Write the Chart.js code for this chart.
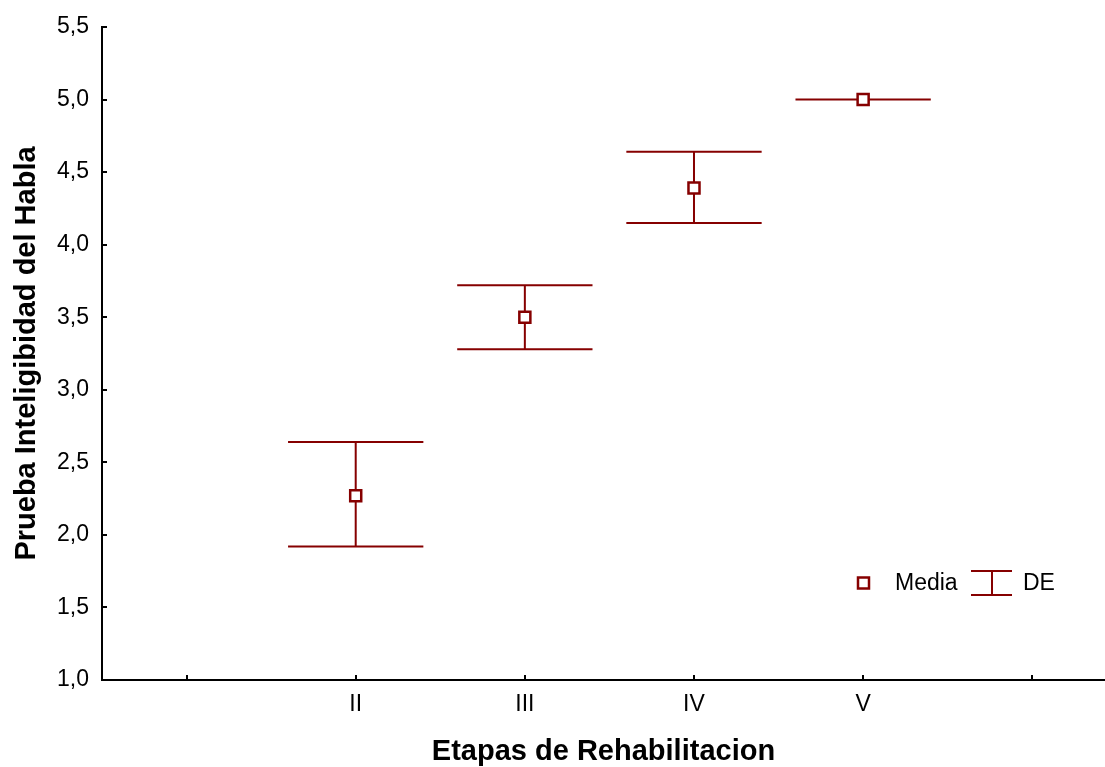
<!DOCTYPE html>
<html>
<head>
<meta charset="utf-8">
<script src="https://cdn.jsdelivr.net/npm/chart.js@4/dist/chart.umd.min.js"></script>
<style>
  html, body { margin: 0; padding: 0; background: #fff; }
  #wrap { width: 1105px; height: 767px; position: relative; }
</style>
</head>
<body>
<div id="wrap"><canvas id="chart"></canvas></div>
<script>
// categories on the x axis (first and last slots are empty)
const categories = ["", "II", "III", "IV", "V", ""];
const stagePos = [1, 2, 3, 4];
// mean and +/- SD limits per stage
const means = [2.27, 3.50, 4.39, 5.00];
const sdUpper = [2.64, 3.72, 4.64, 5.00];
const sdLower = [1.92, 3.28, 4.15, 5.00];
const yTicks = [1.0, 1.5, 2.0, 2.5, 3.0, 3.5, 4.0, 4.5, 5.0, 5.5];

const RED = "#860000";
const FONT = "'Liberation Sans', Arial, sans-serif";

// error bars + inward ticks + legend
const extrasPlugin = {
  id: "extras",
  beforeDatasetsDraw(chart) {
    const ctx = chart.ctx;
    const xs = chart.scales.x, ys = chart.scales.y;
    ctx.save();
    ctx.strokeStyle = RED;
    ctx.lineWidth = 2;
    stagePos.forEach((p, i) => {
      const x = xs.getPixelForValue(p);
      const xl = xs.getPixelForValue(p - 0.4);
      const xr = xs.getPixelForValue(p + 0.4);
      const yt = ys.getPixelForValue(sdUpper[i]);
      const yb = ys.getPixelForValue(sdLower[i]);
      ctx.beginPath();
      ctx.moveTo(x, yt); ctx.lineTo(x, yb);
      ctx.moveTo(xl, yt); ctx.lineTo(xr, yt);
      ctx.moveTo(xl, yb); ctx.lineTo(xr, yb);
      ctx.stroke();
    });
    ctx.restore();
  },
  afterDraw(chart) {
    const ctx = chart.ctx;
    const xs = chart.scales.x, ys = chart.scales.y;
    const area = chart.chartArea;
    ctx.save();
    // inward tick marks
    ctx.strokeStyle = "#000";
    ctx.lineWidth = 2;
    ctx.beginPath();
    yTicks.forEach(v => {
      const y = Math.round(ys.getPixelForValue(v));
      ctx.moveTo(area.left, y); ctx.lineTo(area.left + 5, y);
    });
    categories.forEach((c, i) => {
      const x = Math.round(xs.getPixelForValue(i));
      ctx.moveTo(x, area.bottom); ctx.lineTo(x, area.bottom - 5);
    });
    ctx.stroke();

    // legend
    const ly = 583;
    ctx.strokeStyle = RED;
    ctx.fillStyle = "#fff";
    ctx.lineWidth = 2.5;
    ctx.fillRect(858, ly - 5.5, 11, 11);
    ctx.strokeRect(858, ly - 5.5, 11, 11);
    ctx.lineWidth = 2;
    ctx.beginPath();
    ctx.moveTo(971, ly - 12); ctx.lineTo(1012, ly - 12);
    ctx.moveTo(971, ly + 12); ctx.lineTo(1012, ly + 12);
    ctx.moveTo(992, ly - 12); ctx.lineTo(992, ly + 12);
    ctx.stroke();
    ctx.fillStyle = "#000";
    ctx.font = "23px " + FONT;
    ctx.textBaseline = "middle";
    ctx.textAlign = "left";
    ctx.fillText("Media", 895, ly + 1);
    ctx.fillText("DE", 1023, ly + 1);
    ctx.restore();
  }
};

new Chart(document.getElementById("chart"), {
  type: "scatter",
  data: {
    datasets: [{
      label: "Media",
      data: stagePos.map((p, i) => ({ x: p, y: means[i] })),
      pointStyle: "rect",
      pointRadius: 7.8,
      pointHoverRadius: 7.8,
      borderWidth: 2.5,
      borderColor: RED,
      backgroundColor: "#fff"
    }]
  },
  options: {
    responsive: true,
    maintainAspectRatio: false,
    animation: false,
    layout: { autoPadding: false, padding: { top: 27, right: 0, left: 0, bottom: 0 } },
    plugins: {
      legend: { display: false },
      tooltip: { enabled: false }
    },
    scales: {
      x: {
        type: "linear",
        min: -0.5,
        max: 5.43,
        afterBuildTicks(scale) {
          scale.ticks = categories.map((c, i) => ({ value: i }));
        },
        afterFit(scale) {
          scale.height = 87;
          scale.paddingLeft = 0;
          scale.paddingRight = 0;
        },
        grid: { display: false, drawTicks: false },
        border: { display: true, color: "#000", width: 2 },
        ticks: {
          autoSkip: false,
          maxRotation: 0,
          padding: 11,
          color: "#000",
          font: { family: FONT, size: 23 },
          callback: (v) => categories[v] ?? ""
        },
        title: {
          display: true,
          text: "Etapas de Rehabilitacion",
          color: "#000",
          font: { family: FONT, size: 29, weight: "bold", lineHeight: 1 },
          padding: { top: 0, bottom: 1 }
        }
      },
      y: {
        min: 1.0,
        max: 5.5,
        afterBuildTicks(scale) {
          scale.ticks = yTicks.map(v => ({ value: v }));
        },
        afterFit(scale) {
          scale.width = 102;
          scale.paddingTop = 0;
          scale.paddingBottom = 0;
        },
        grid: { display: false, drawTicks: false },
        border: { display: true, color: "#000", width: 2 },
        ticks: {
          padding: 13,
          color: "#000",
          font: { family: FONT, size: 23 },
          callback: (v) => v.toFixed(1).replace(".", ",")
        },
        title: {
          display: true,
          text: "Prueba Inteligibidad del Habla",
          color: "#000",
          font: { family: FONT, size: 29, weight: "bold", lineHeight: 1 },
          padding: { top: 12, bottom: 0 }
        }
      }
    }
  },
  plugins: [extrasPlugin]
});
</script>
</body>
</html>
